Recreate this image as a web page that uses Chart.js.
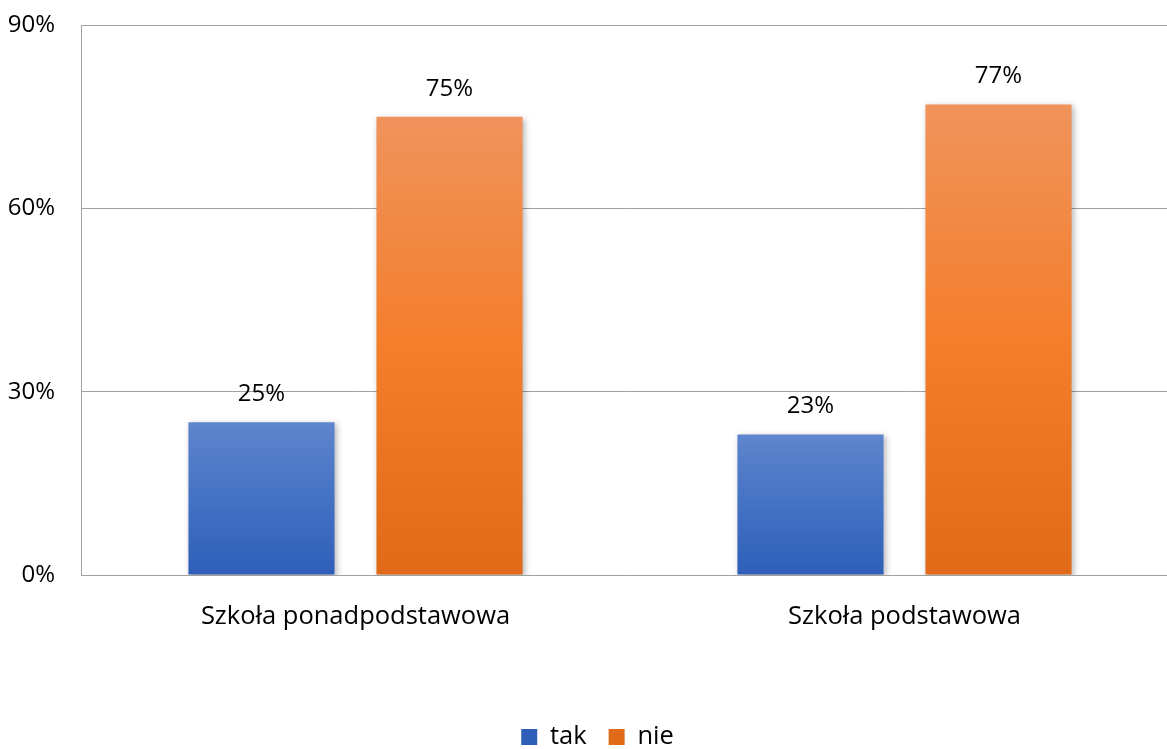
<!DOCTYPE html>
<html><head><meta charset="utf-8">
<script src="https://cdn.jsdelivr.net/npm/chart.js@4/dist/chart.umd.min.js"></script>
<style>
html,body{margin:0;padding:0;background:#fff;overflow:hidden;}
#wrap{width:1179px;height:749px;position:relative;}
</style></head><body>
<div id="wrap"><canvas id="c"></canvas></div>
<script>
const categories = ['Szkoła ponadpodstawowa', 'Szkoła podstawowa'];
const seriesNames = ['tak', 'nie'];
const takValues = [25, 23];
const nieValues = [75, 77];
const yTicks = [0, 30, 60, 90];

const FONT = '"Open Sans", Lato, sans-serif';
const FS = 24;
const FS_CAT = 25.5;

function grad(stops, flat){
  return function(ctx){
    if (ctx.type !== 'data') return flat;
    const chart = ctx.chart;
    if (!chart.chartArea) return flat;
    const y = chart.scales.y;
    const top = y.getPixelForValue(ctx.raw);
    const bottom = y.getPixelForValue(0);
    const g = chart.ctx.createLinearGradient(0, top, 0, bottom);
    stops.forEach(s => g.addColorStop(s[0], s[1]));
    return g;
  };
}

const labelPlugin = {
  id: 'valueLabels',
  afterDatasetsDraw(chart){
    const ctx = chart.ctx;
    ctx.save();
    ctx.font = FS + 'px ' + FONT;
    ctx.fillStyle = '#000';
    ctx.textAlign = 'center';
    ctx.textBaseline = 'middle';
    chart.data.datasets.forEach((ds, i) => {
      chart.getDatasetMeta(i).data.forEach((bar, j) => {
        ctx.fillText(ds.data[j] + '%', bar.x, bar.y - 28);
      });
    });
    ctx.restore();
  }
};

const shadowPlugin = {
  id: 'barShadow',
  beforeDatasetsDraw(chart){
    const ctx = chart.ctx;
    ctx.save();
    ctx.shadowColor = 'rgba(0,0,0,0.28)';
    ctx.shadowBlur = 6;
    ctx.shadowOffsetX = 2;
    ctx.shadowOffsetY = 2;
  },
  afterDatasetsDraw(chart){
    chart.ctx.restore();
  }
};

const legendShift = {
  id: 'legendShift',
  afterLayout(chart){
    if (chart.legend) { chart.legend.left += 8; chart.legend.right += 8; }
  }
};

new Chart(document.getElementById('c'), {
  type: 'bar',
  data: {
    labels: categories,
    datasets: [
      { label: seriesNames[0], data: takValues,
        backgroundColor: grad([[0,'#5e85cd'],[0.5,'#4472c4'],[1,'#2e5eb8']], '#4472c4'),
        borderWidth: 0 },
      { label: seriesNames[1], data: nieValues,
        backgroundColor: grad([[0,'#f0935c'],[0.5,'#f47e2b'],[1,'#e16a18']], '#ed7d31'),
        borderWidth: 0 }
    ]
  },
  options: {
    responsive: true,
    maintainAspectRatio: false,
    animation: false,
    categoryPercentage: 0.685,
    barPercentage: 0.777,
    layout: { padding: { top: 25, right: 0, bottom: 0, left: 0 } },
    plugins: {
      legend: {
        position: 'bottom',
        maxHeight: 46.75,
        labels: { font: { family: FONT, size: FS_CAT }, color: '#000', boxWidth: 16, boxHeight: 16, padding: 22 }
      },
      tooltip: { enabled: false }
    },
    scales: {
      x: {
        grid: { display: false },
        border: { display: true, color: '#a0a0a0', width: 1 },
        ticks: { font: { family: FONT, size: FS_CAT }, color: '#000', padding: 18 },
        afterFit(scale){ scale.height = 127.25; scale.paddingLeft = 0; scale.paddingRight = 0; }
      },
      y: {
        min: 0, max: 90,
        afterBuildTicks(scale){ scale.ticks = yTicks.map(v => ({ value: v })); },
        afterFit(scale){ scale.width = 81; scale.paddingTop = 0; scale.paddingBottom = 0; },
        grid: { color: '#a0a0a0', drawTicks: false, lineWidth: 1 },
        border: { display: true, color: '#a0a0a0', width: 1 },
        ticks: { font: { family: FONT, size: FS }, color: '#000', padding: 26,
                 callback: v => v + '%' }
      }
    }
  },
  plugins: [shadowPlugin, labelPlugin, legendShift]
});
</script>
</body></html>
